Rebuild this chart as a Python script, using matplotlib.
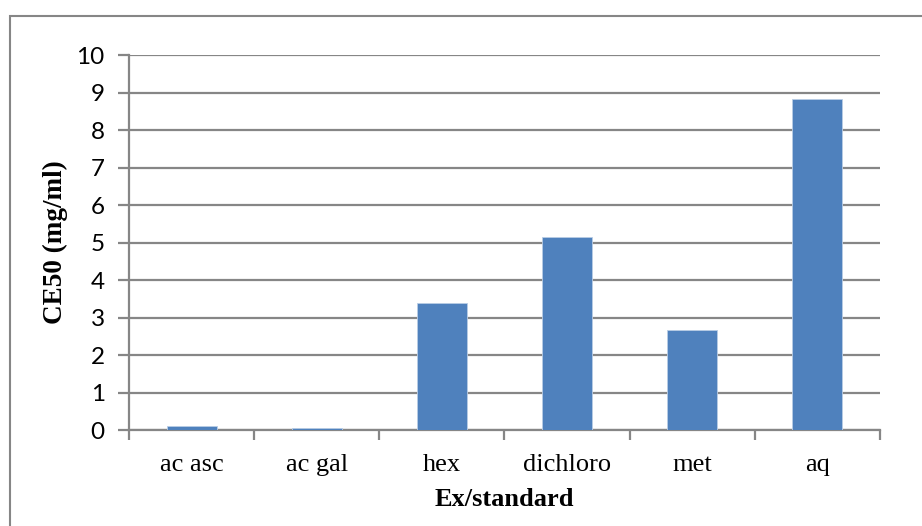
import matplotlib
matplotlib.use('Agg')
import matplotlib.pyplot as plt
from matplotlib.patches import Rectangle

categories = ['ac asc', 'ac gal', 'hex', 'dichloro', 'met', 'aq']
ce50_values = [0.12, 0.05, 3.40, 5.15, 2.66, 8.82]
y_ticks = [0, 1, 2, 3, 4, 5, 6, 7, 8, 9, 10]

bar_color = '#4F81BD'
grid_color = '#868686'

fig = plt.figure(figsize=(9.22, 5.26), dpi=100)
ax = fig.add_axes([0.1399, 0.1825, 0.8145, 0.7129])

# chart area frame, like the Excel chart border
fig.patches.append(Rectangle((10 / 922, -0.05), 1.0, (526 - 16) / 526 + 0.05,
                             transform=fig.transFigure, fill=False,
                             edgecolor='#868686', linewidth=1.5))

x = range(len(categories))
ax.bar(x, ce50_values, width=0.4, color=bar_color, edgecolor='#B9CDE5',
       linewidth=0.6, zorder=3)

ax.set_xlim(-0.5, len(categories) - 0.5)
ax.set_ylim(0, 10)
ax.set_yticks(y_ticks)
ax.set_yticklabels([str(t) for t in y_ticks], fontfamily='Lato', fontsize=17.5)
ax.yaxis.grid(True, color=grid_color, linewidth=1.6, zorder=0)
ax.set_axisbelow(True)

# category labels at centres, tick marks at the boundaries
ax.set_xticks(list(x))
ax.set_xticklabels(categories, fontfamily='Liberation Serif', fontsize=19)
ax.tick_params(axis='x', length=0, pad=17)
ax.set_xticks([i - 0.5 for i in range(len(categories) + 1)], minor=True)
ax.tick_params(axis='x', which='minor', length=7, width=1.6, color=grid_color)
ax.tick_params(axis='y', length=8, width=1.6, color=grid_color, pad=9.5)

for side in ['top', 'right']:
    ax.spines[side].set_visible(False)
for side in ['left', 'bottom']:
    ax.spines[side].set_color(grid_color)
    ax.spines[side].set_linewidth(1.6)

ax.set_xlabel('Ex/standard', fontfamily='Liberation Serif', fontweight='bold',
              fontsize=19, labelpad=9)
ax.set_ylabel('CE50 (mg/ml)', fontfamily='Liberation Serif', fontweight='bold',
              fontsize=19.5, labelpad=6)

fig.savefig('out.png', dpi=100, facecolor='white')
